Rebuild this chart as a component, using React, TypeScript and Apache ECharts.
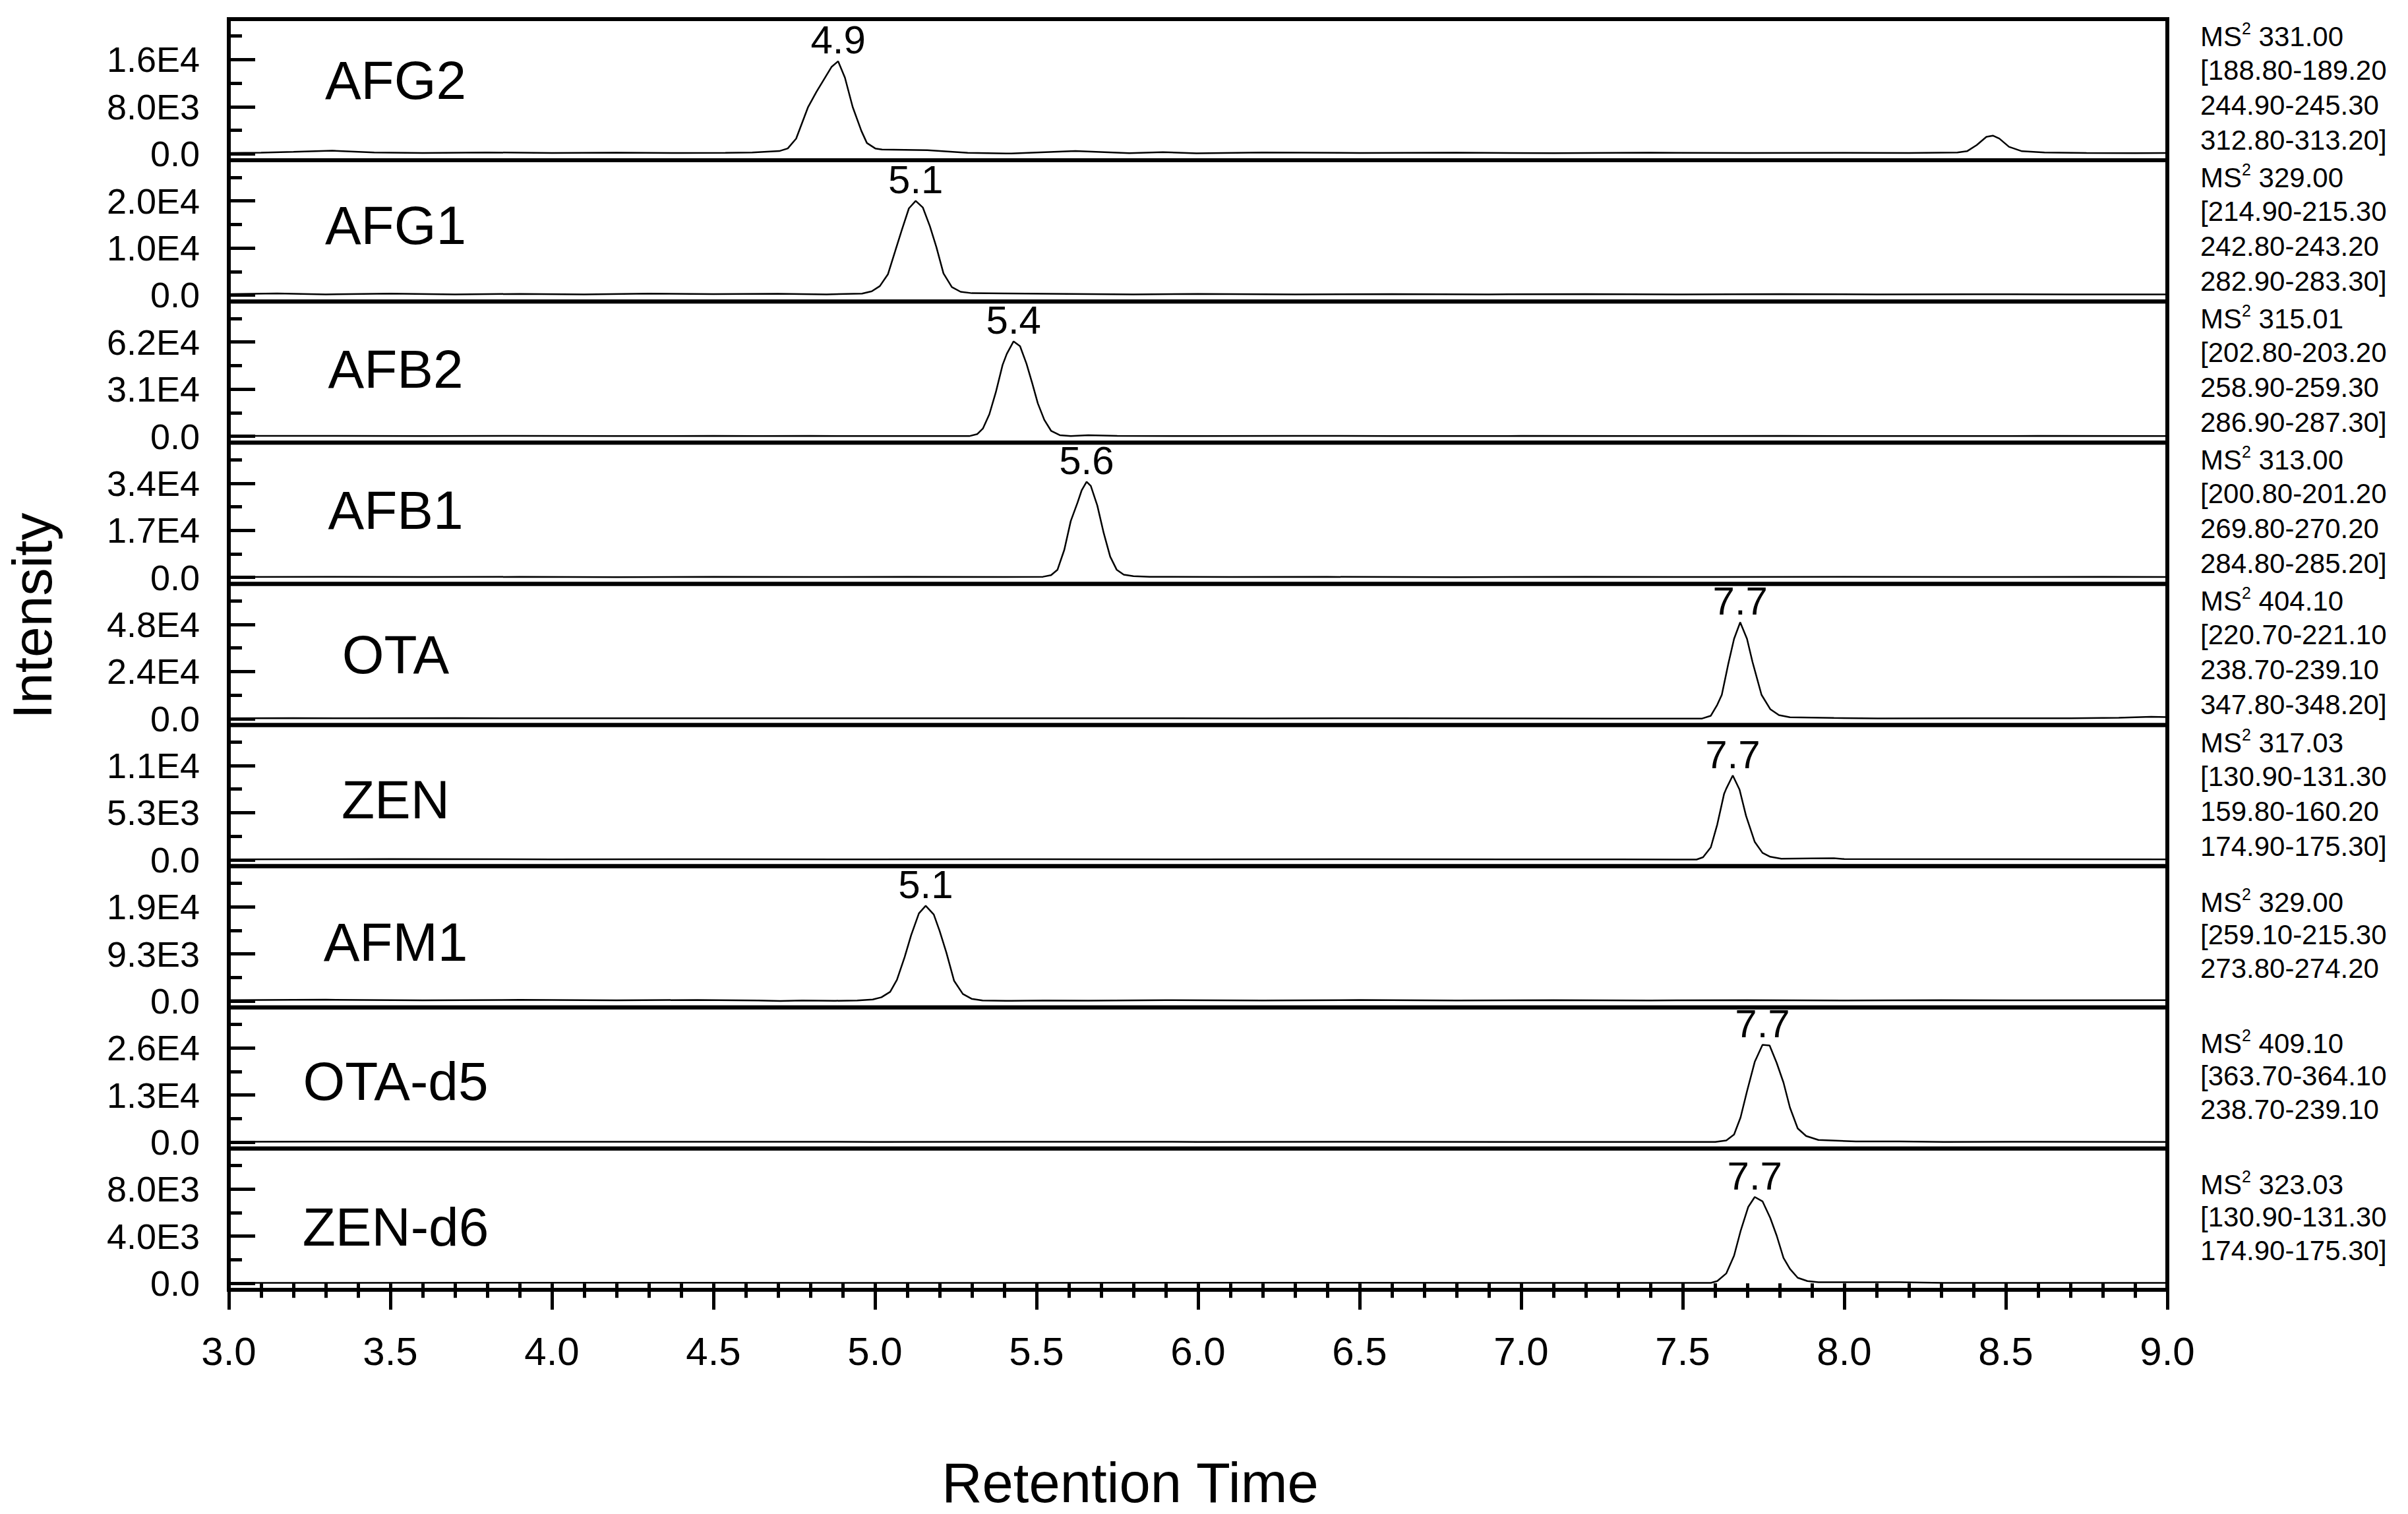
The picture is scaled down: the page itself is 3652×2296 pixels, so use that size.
import React, { useEffect, useRef } from 'react';
import * as echarts from 'echarts';

// ---------------- data ----------------
const compounds = ['AFG2', 'AFG1', 'AFB2', 'AFB1', 'OTA', 'ZEN', 'AFM1', 'OTA-d5', 'ZEN-d6'];
const peakLabels = ['4.9', '5.1', '5.4', '5.6', '7.7', '7.7', '5.1', '7.7', '7.7'];
// top labelled y tick of each panel (labels at 0, top/2, top)
const yTickTops = [16000, 20000, 62000, 34000, 48000, 10600, 18600, 26000, 8000];
const precursors = ['331.00', '329.00', '315.01', '313.00', '404.10', '317.03', '329.00', '409.10', '323.03'];
const transitions = [
  ['[188.80-189.20', '244.90-245.30', '312.80-313.20]'],
  ['[214.90-215.30', '242.80-243.20', '282.90-283.30]'],
  ['[202.80-203.20', '258.90-259.30', '286.90-287.30]'],
  ['[200.80-201.20', '269.80-270.20', '284.80-285.20]'],
  ['[220.70-221.10', '238.70-239.10', '347.80-348.20]'],
  ['[130.90-131.30', '159.80-160.20', '174.90-175.30]'],
  ['[259.10-215.30', '273.80-274.20'],
  ['[363.70-364.10', '238.70-239.10'],
  ['[130.90-131.30', '174.90-175.30]'],
];
const xMin = 3.0;
const xMax = 9.0;
const xInterval = 0.5;

const afg2 = [
  [3.0, 150], [3.1, 200], [3.2, 350], [3.32, 550], [3.45, 250], [3.6, 150], [3.8, 250], [4.0, 150],
  [4.2, 220], [4.4, 150], [4.537, 190], [4.62, 250], [4.704, 480], [4.73, 920], [4.756, 2590],
  [4.793, 7960], [4.819, 10550], [4.866, 14800], [4.886, 15730], [4.907, 12950], [4.931, 7960],
  [4.958, 3890], [4.975, 1850], [5.001, 920], [5.022, 740], [5.162, 630], [5.287, 190], [5.422, 60],
  [5.62, 480], [5.787, 120], [5.891, 300], [5.995, 100], [6.2, 250], [6.5, 150], [6.8, 200], [7.1, 120],
  [7.4, 200], [7.7, 150], [8.0, 180], [8.2, 150], [8.35, 250], [8.38, 450], [8.41, 1500], [8.44, 2900],
  [8.46, 3100], [8.48, 2600], [8.51, 1200], [8.55, 450], [8.62, 250], [8.75, 150], [8.9, 120], [9.0, 150],
];
const afg1 = [
  [3.0, 200], [3.15, 350], [3.3, 150], [3.5, 300], [3.7, 150], [3.9, 250], [4.1, 150], [4.3, 300],
  [4.5, 200], [4.7, 280], [4.85, 150], [4.96, 300], [4.99, 800], [5.015, 1900], [5.04, 4400],
  [5.062, 9200], [5.083, 13800], [5.105, 18400], [5.126, 20000], [5.148, 18600], [5.17, 14600],
  [5.19, 10200], [5.212, 4600], [5.238, 1700], [5.265, 700], [5.3, 400], [5.4, 350], [5.6, 250],
  [5.8, 150], [6.0, 250], [6.3, 150], [6.6, 200], [6.9, 150], [7.2, 200], [7.5, 150], [7.8, 200],
  [8.1, 150], [8.4, 180], [8.7, 150], [9.0, 120],
];
const afb2 = [
  [3.0, 200], [3.3, 300], [3.6, 150], [3.9, 250], [4.2, 150], [4.5, 200], [4.64, 150], [4.8, 250],
  [4.98, 100], [5.184, 150], [5.292, 100], [5.317, 1450], [5.334, 5060], [5.354, 14450],
  [5.374, 28900], [5.395, 46960], [5.408, 54190], [5.429, 62420], [5.449, 59250], [5.469, 47690],
  [5.487, 34680], [5.504, 21680], [5.524, 10840], [5.545, 3610], [5.572, 720], [5.606, 150],
  [5.66, 700], [5.75, 300], [6.0, 150], [6.3, 250], [6.6, 150], [7.0, 200], [7.4, 150], [7.8, 200],
  [8.2, 150], [8.6, 200], [9.0, 150],
];
const afb1 = [
  [3.0, 150], [3.3, 250], [3.6, 150], [3.9, 200], [4.2, 120], [4.5, 200], [4.8, 150], [5.1, 200],
  [5.4, 150], [5.52, 250], [5.545, 800], [5.565, 2790], [5.586, 9980], [5.606, 20350], [5.627, 27000],
  [5.64, 31500], [5.655, 34500], [5.668, 33000], [5.688, 26000], [5.708, 16000], [5.728, 7500],
  [5.748, 2800], [5.77, 1000], [5.8, 450], [5.85, 250], [6.1, 150], [6.4, 200], [6.8, 120], [7.2, 200],
  [7.6, 150], [8.0, 200], [8.4, 150], [8.8, 200], [9.0, 150],
];
const ota = [
  [3.0, 200], [3.2, 300], [3.4, 150], [3.7, 250], [4.0, 150], [4.3, 200], [4.6, 150], [5.0, 200],
  [5.4, 150], [5.8, 200], [6.2, 120], [6.6, 180], [7.0, 120], [7.288, 50], [7.376, 0], [7.56, 50],
  [7.587, 1450], [7.607, 7050], [7.621, 12100], [7.641, 27770], [7.659, 40650], [7.678, 49050],
  [7.699, 40650], [7.716, 28890], [7.744, 12100], [7.771, 4820], [7.798, 1790], [7.832, 670],
  [7.968, 340], [8.104, 100], [8.4, 150], [8.7, 200], [8.85, 400], [8.95, 900], [9.0, 800],
];
const zen = [
  [3.0, 50], [3.5, 80], [4.0, 50], [4.5, 60], [5.0, 50], [5.5, 70], [6.0, 50], [6.5, 60], [7.0, 50],
  [7.3, 40], [7.543, 30], [7.563, 290], [7.587, 1400], [7.607, 3970], [7.628, 7400], [7.635, 8010],
  [7.655, 9480], [7.676, 7890], [7.696, 4950], [7.723, 2010], [7.747, 780], [7.771, 340], [7.805, 120],
  [7.9, 150], [7.968, 170], [8.0, 80], [8.5, 60], [9.0, 50],
];
const afm1 = [
  [3.0, 150], [3.3, 250], [3.6, 120], [3.9, 220], [4.2, 130], [4.45, 200], [4.639, 90], [4.707, 0],
  [4.775, 90], [4.877, 40], [4.945, 90], [4.993, 300], [5.02, 730], [5.047, 1800], [5.068, 4170],
  [5.092, 8690], [5.112, 12990], [5.136, 17290], [5.157, 18790], [5.182, 17070], [5.2, 13850],
  [5.221, 9550], [5.245, 3960], [5.272, 1380], [5.299, 430], [5.333, 90], [5.422, 30], [5.524, 90],
  [5.66, 60], [5.9, 150], [6.2, 100], [6.5, 180], [6.8, 100], [7.1, 150], [7.4, 100], [7.7, 160],
  [8.0, 100], [8.3, 150], [8.6, 120], [9.0, 150],
];
const otaD5 = [
  [3.0, 100], [3.5, 150], [4.0, 100], [4.5, 120], [5.0, 80], [5.5, 120], [6.0, 80], [6.5, 100],
  [7.0, 80], [7.288, 60], [7.601, 60], [7.635, 480], [7.659, 2100], [7.679, 6800], [7.699, 14030],
  [7.723, 22150], [7.747, 26850], [7.769, 26670], [7.791, 21850], [7.812, 16430], [7.832, 9510],
  [7.856, 3790], [7.882, 1690], [7.92, 600], [8.036, 180], [8.172, 180], [8.308, 60], [8.6, 100],
  [9.0, 80],
];
const zenD6 = [
  [3.0, 40], [4.0, 50], [5.0, 40], [6.0, 50], [7.0, 40], [7.288, 40], [7.587, 40], [7.607, 190],
  [7.635, 845], [7.659, 2350], [7.679, 4420], [7.703, 6490], [7.723, 7330], [7.747, 6960],
  [7.771, 5550], [7.791, 4040], [7.812, 2160], [7.832, 1220], [7.856, 470], [7.886, 190], [7.92, 100],
  [8.172, 100], [8.308, 40], [9.0, 40],
];
const traces = [afg2, afg1, afb2, afb1, ota, zen, afm1, otaD5, zenD6];

// ---------------- layout ----------------
const W = 3652;
const H = 2296;
const PL = 347;
const PR = 3287;
const PT = 29;
const PH = 214.1;
const FONT = '"Liberation Sans", Arial, Helvetica, sans-serif';
const nameY = [121, 341, 559, 773, 992, 1212, 1428, 1639, 1860];

const fmtY = (v: number) =>
  v === 0 ? '0.0' : v.toExponential(1).toUpperCase().replace('+', '');

function buildOption() {
  const grid: any[] = [];
  const xAxis: any[] = [];
  const yAxis: any[] = [];
  const series: any[] = [];
  const graphic: any[] = [];

  compounds.forEach((name, k) => {
    const T = yTickTops[k];
    const last = k === compounds.length - 1;
    grid.push({
      left: PL,
      top: PT + k * PH,
      width: PR - PL,
      height: PH,
      show: true,
      borderColor: '#000',
      borderWidth: 6,
      backgroundColor: 'transparent',
      containLabel: false,
    });
    xAxis.push(
      last
        ? {
            type: 'value',
            gridIndex: k,
            min: xMin,
            max: xMax,
            interval: xInterval,
            position: 'bottom',
            axisLine: { show: false },
            splitLine: { show: false },
            axisTick: { show: true, inside: false, length: 40, lineStyle: { color: '#000', width: 5 } },
            minorTick: { show: true, splitNumber: 5, length: 22, lineStyle: { color: '#000', width: 5 } },
            axisLabel: {
              show: true,
              fontSize: 60,
              color: '#000',
              fontFamily: FONT,
              margin: 64,
              formatter: (v: number) => v.toFixed(1),
            },
          }
        : { type: 'value', gridIndex: k, min: xMin, max: xMax, show: false }
    );
    const yMin = -0.068 * T;
    const yMax = 1.43 * T;
    yAxis.push({
      type: 'value',
      gridIndex: k,
      position: 'left',
      min: yMin,
      max: yMax,
      axisLine: { show: false },
      splitLine: { show: false },
      axisTick: {
        show: true,
        inside: true,
        length: 40,
        lineStyle: { color: '#000', width: 5 },
        customValues: [0, T / 2, T],
      },
      axisLabel: {
        show: true,
        customValues: [0, T / 2, T],
        formatter: fmtY,
        fontSize: 54,
        color: '#000',
        fontFamily: FONT,
        margin: 44,
      },
    });
    yAxis.push({
      type: 'value',
      gridIndex: k,
      position: 'left',
      min: yMin,
      max: yMax,
      axisLine: { show: false },
      splitLine: { show: false },
      axisLabel: { show: false },
      axisTick: {
        show: true,
        inside: true,
        length: 20,
        lineStyle: { color: '#000', width: 5 },
        customValues: [T / 4, (3 * T) / 4, (5 * T) / 4],
      },
    });

    const data = traces[k];
    const apex = data.reduce((a, b) => (b[1] > a[1] ? b : a), data[0]);
    series.push({
      type: 'line',
      name,
      xAxisIndex: k,
      yAxisIndex: 2 * k,
      data,
      showSymbol: false,
      symbol: 'none',
      silent: true,
      clip: true,
      lineStyle: { color: '#000', width: 2.5 },
      markPoint: {
        symbol: 'circle',
        symbolSize: 0,
        silent: true,
        itemStyle: { color: 'transparent' },
        label: {
          show: true,
          position: 'top',
          distance: 2,
          formatter: peakLabels[k],
          fontSize: 60,
          color: '#000',
          fontFamily: FONT,
        },
        data: [{ coord: [apex[0], apex[1]], value: apex[1] }],
      },
    });

    // compound name inside the panel
    graphic.push({
      type: 'text',
      x: 600,
      y: nameY[k],
      silent: true,
      style: {
        text: name,
        fontSize: 82,
        fontFamily: FONT,
        fill: '#000',
        align: 'center',
        verticalAlign: 'middle',
      },
    });

    // MS2 transition block on the right
    const lines = ['MS', ...transitions[k]];
    const n = lines.length;
    const step = n === 4 ? 53 : 51;
    const cy = PT + (k + 0.5) * PH - 3;
    lines.forEach((ln, i) => {
      const y = cy + (i - (n - 1) / 2) * step;
      if (i === 0) {
        graphic.push({
          type: 'text',
          x: 3337,
          y,
          silent: true,
          style: {
            text: `{m|MS}{s|2}{m| ${precursors[k]}}`,
            align: 'left',
            verticalAlign: 'middle',
            fill: '#000',
            rich: {
              m: { fontSize: 42, fontFamily: FONT, fill: '#000', lineHeight: 46, verticalAlign: 'bottom' },
              s: { fontSize: 25, fontFamily: FONT, fill: '#000', lineHeight: 25, verticalAlign: 'top' },
            },
          },
        });
      } else {
        graphic.push({
          type: 'text',
          x: 3337,
          y,
          silent: true,
          style: {
            text: ln,
            fontSize: 42,
            fontFamily: FONT,
            fill: '#000',
            align: 'left',
            verticalAlign: 'middle',
          },
        });
      }
    });
  });

  graphic.push({
    type: 'text',
    x: 49,
    y: 934,
    rotation: Math.PI / 2,
    silent: true,
    style: {
      text: 'Intensity',
      fontSize: 84,
      fontFamily: FONT,
      fill: '#000',
      align: 'center',
      verticalAlign: 'middle',
    },
  });
  graphic.push({
    type: 'text',
    x: 1714,
    y: 2248,
    silent: true,
    style: {
      text: 'Retention Time',
      fontSize: 85,
      fontFamily: FONT,
      fill: '#000',
      align: 'center',
      verticalAlign: 'middle',
    },
  });

  return {
    animation: false,
    backgroundColor: '#ffffff',
    textStyle: { fontFamily: FONT },
    grid,
    xAxis,
    yAxis,
    series,
    graphic,
  };
}

export default function App() {
  const ref = useRef<HTMLDivElement>(null);
  useEffect(() => {
    if (!ref.current) return;
    const chart = echarts.init(ref.current, null, { renderer: 'svg' });
    chart.setOption(buildOption() as any);
    return () => chart.dispose();
  }, []);
  return (
    <div
      ref={ref}
      style={{ position: 'fixed', left: 0, top: 0, width: W, height: H, background: '#fff' }}
    />
  );
}
